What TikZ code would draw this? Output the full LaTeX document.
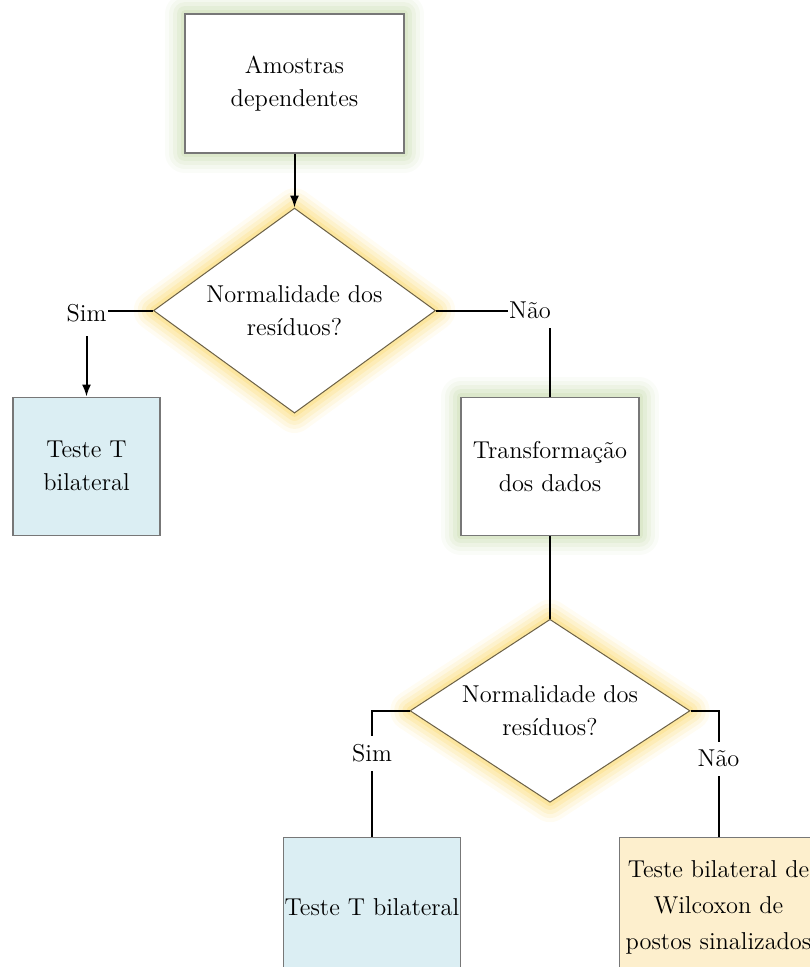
\documentclass[tikz,border=0pt]{standalone}
\usetikzlibrary{arrows.meta,positioning,shapes.geometric}
\definecolor{glowgreen}{HTML}{BCD49C}
\definecolor{glowgold}{HTML}{F9CF4A}
\definecolor{tealfill}{HTML}{DBEEF3}
\definecolor{sandfill}{HTML}{FDEFCD}
\definecolor{boxline}{HTML}{777777}
\definecolor{decline}{HTML}{6B6045}

\begin{document}
\begin{tikzpicture}[>={Latex[length=6pt,width=4.5pt]},
font=\fontsize{12.2}{16.5}\selectfont,
box/.style={draw=boxline,line width=0.6pt,fill=white,align=center,inner xsep=0.5pt,inner ysep=2pt},
test/.style={box,minimum height=70pt},
dec/.style={diamond,draw=decline,line width=0.5pt,fill=white,align=center,aspect=1.5,inner sep=0.5pt},
glow/.style={preaction={draw=#1,line join=round,line width=20pt,opacity=0.07},
  preaction={draw=#1,line join=round,line width=16pt,opacity=0.1},
  preaction={draw=#1,line join=round,line width=12pt,opacity=0.13},
  preaction={draw=#1,line join=round,line width=8pt,opacity=0.17},
  preaction={draw=#1,line join=round,line width=4pt,opacity=0.22}},
lbl/.style={fill=white,inner xsep=0.6pt,inner ysep=4.3pt},
link/.style={line width=1pt}]
\useasboundingbox (0,0) rectangle (404.5pt,-483.5pt);
% start
\node[box,glow=glowgreen,minimum width=109.5pt,minimum height=69.5pt] (amostras) at (147.25pt,-41.75pt) {Amostras\\dependentes};
\node[dec,glow=glowgold,minimum width=141pt,minimum height=102.5pt,below=27pt of amostras] (norm1) {Normalidade dos\\resíduos?};
\node[test,fill=tealfill,minimum width=73.5pt,minimum height=69pt,below=43pt of norm1.west,xshift=-33.25pt] (ttest1) {Teste T\\bilateral};
\node[box,glow=glowgreen,minimum width=89pt,minimum height=69pt,below=43pt of norm1.east,xshift=57pt] (trans) {Transformação\\dos dados};
% second test
\node[dec,glow=glowgold,minimum width=140pt,minimum height=91.5pt,below=41.5pt of trans] (norm2) {Normalidade dos\\resíduos?};
\node[test,fill=tealfill,minimum width=88.5pt,below=63pt of norm2.west,xshift=-18.75pt] (ttest2) {Teste T bilateral};
\node[test,fill=sandfill,minimum width=99pt,below=63pt of norm2.east,xshift=14pt,font=\fontsize{12.2}{18}\selectfont] (wilcox) {Teste bilateral de\\Wilcoxon de\\postos sinalizados};
% connectors
\draw[link,->] (amostras) -- (norm1);
\draw[link,->] (norm1.west) -| node[lbl,pos=0.5,yshift=-1.5pt,inner ysep=7pt]{Sim} (ttest1.north);
\draw[link] (norm1.east) -| node[lbl,pos=0.5,xshift=-10pt]{Não} (trans.north);
\draw[link] (trans) -- (norm2);
\draw[link] (norm2.west) -| node[lbl,pos=0.67]{Sim} (ttest2.north);
\draw[link] (norm2.east) -| node[lbl,pos=0.69]{Não} (wilcox.north);
\end{tikzpicture}
\end{document}
